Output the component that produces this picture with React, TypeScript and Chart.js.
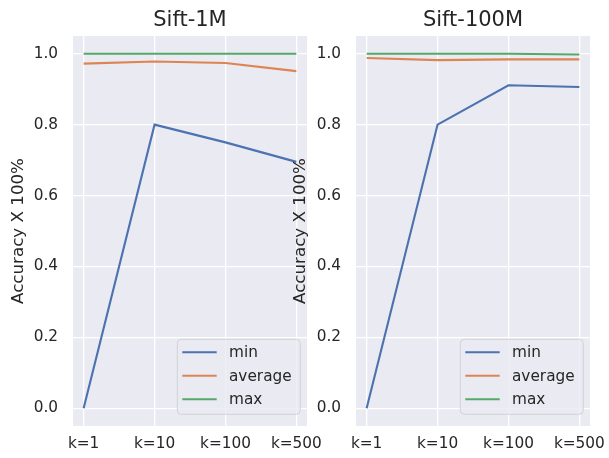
import React, { useEffect, useRef } from 'react';
import { Chart, registerables } from 'chart.js';

Chart.register(...registerables);

// ---- data ----
const categories = ['k=1', 'k=10', 'k=100', 'k=500'];
const seriesNames = ['min', 'average', 'max'];
const sift1mMin = [0.0, 0.8, 0.75, 0.695];
const sift1mAvg = [0.972, 0.978, 0.974, 0.951];
const sift1mMax = [1.0, 1.0, 1.0, 1.0];
const sift100mMin = [0.0, 0.8, 0.911, 0.906];
const sift100mAvg = [0.988, 0.982, 0.984, 0.984];
const sift100mMax = [1.0, 1.0, 1.0, 0.998];
const yTickValues = [0.0, 0.2, 0.4, 0.6, 0.8, 1.0];
const yLabel = 'Accuracy X 100%';

const COLORS = ['#4c72b0', '#dd8452', '#55a868'];
const TEXT = '#262626';
const FONT = '"DejaVu Sans", sans-serif';

const bgPlugin = {
  id: 'axBg',
  beforeDraw(chart: any) {
    const { ctx, chartArea } = chart;
    ctx.save();
    ctx.fillStyle = '#eaeaf2';
    ctx.fillRect(chartArea.left, chartArea.top, chartArea.width, chartArea.height);
    ctx.restore();
  },
};

const legendPlugin = {
  id: 'mplLegend',
  afterDraw(chart: any) {
    const { ctx, chartArea } = chart;
    const w = 123;
    const h = 75;
    const x = chartArea.right - 6.7 - w;
    const y = chartArea.bottom - 11.7 - h;
    ctx.save();
    ctx.beginPath();
    ctx.roundRect(x, y, w, h, 4);
    ctx.fillStyle = 'rgba(234,234,242,0.8)';
    ctx.fill();
    ctx.strokeStyle = 'rgba(204,204,204,0.8)';
    ctx.lineWidth = 1;
    ctx.stroke();
    chart.data.datasets.forEach((ds: any, i: number) => {
      const ly = y + 13 + i * 23.5;
      ctx.beginPath();
      ctx.moveTo(x + 5, ly);
      ctx.lineTo(x + 39.4, ly);
      ctx.strokeStyle = ds.borderColor;
      ctx.lineWidth = 2.1;
      ctx.stroke();
      ctx.fillStyle = TEXT;
      ctx.font = `15.3px ${FONT}`;
      ctx.textBaseline = 'middle';
      ctx.textAlign = 'left';
      ctx.fillText(ds.label, x + 51.7, ly + 1);
    });
    ctx.restore();
  },
};

function makeConfig(title: string, series: number[][], yAxisWidth: number, padRight: number): any {
  return {
    type: 'line',
    data: {
      datasets: series.map((vals, i) => ({
        label: seriesNames[i],
        data: vals.map((v, j) => ({ x: j, y: v })),
        borderColor: COLORS[i],
        backgroundColor: COLORS[i],
        borderWidth: 2.1,
        pointRadius: 0,
        tension: 0,
        fill: false,
      })),
    },
    options: {
      responsive: false,
      animation: false,
      devicePixelRatio: 1,
      layout: { padding: { left: 0, right: padRight, top: 0, bottom: 0 } },
      plugins: {
        legend: { display: false },
        tooltip: { enabled: false },
        title: {
          display: true,
          text: title,
          fullSize: false,
          color: TEXT,
          font: { family: FONT, size: 21, weight: 'normal', lineHeight: 1.2 },
          padding: { top: 8.3, bottom: 2.5 },
        },
      },
      scales: {
        x: {
          type: 'linear',
          min: -0.15,
          max: 3.15,
          afterBuildTicks(scale: any) {
            scale.ticks = categories.map((_, i) => ({ value: i }));
          },
          afterFit(scale: any) {
            scale.height = 32;
            scale.paddingLeft = 0;
            scale.paddingRight = 0;
          },
          ticks: {
            autoSkip: false,
            maxRotation: 0,
            padding: 9,
            color: TEXT,
            font: { family: FONT, size: 15.3 },
            callback: (v: any) => categories[v as number] ?? '',
          },
          grid: { color: '#ffffff', lineWidth: 1.3, drawTicks: false },
          border: { display: false },
        },
        y: {
          type: 'linear',
          min: -0.05,
          max: 1.05,
          afterBuildTicks(scale: any) {
            scale.ticks = yTickValues.map((v) => ({ value: v }));
          },
          afterFit(scale: any) {
            scale.width = yAxisWidth;
            scale.paddingTop = 0;
            scale.paddingBottom = 0;
          },
          ticks: {
            padding: 15,
            color: TEXT,
            font: { family: FONT, size: 15.3 },
            callback: (v: any) => Number(v).toFixed(1),
          },
          grid: { color: '#ffffff', lineWidth: 1.3, drawTicks: false },
          border: { display: false },
          title: {
            display: true,
            text: yLabel,
            color: TEXT,
            font: { family: FONT, size: 16.7, lineHeight: 1.2 },
            padding: { top: 8.3, bottom: 0 },
          },
        },
      },
    },
    plugins: [bgPlugin, legendPlugin],
  };
}

function Panel(props: { title: string; series: number[][]; left: number; width: number; yAxisWidth: number; padRight: number; z: number }) {
  const ref = useRef<HTMLCanvasElement | null>(null);
  useEffect(() => {
    if (!ref.current) return;
    const chart = new Chart(ref.current, makeConfig(props.title, props.series, props.yAxisWidth, props.padRight));
    return () => chart.destroy();
  }, []);
  return (
    <canvas
      ref={ref}
      width={props.width}
      height={458}
      style={{ position: 'absolute', left: props.left, top: 0, width: props.width, height: 458, zIndex: props.z }}
    />
  );
}

export default function App() {
  return (
    <div style={{ position: 'absolute', left: 0, top: 0, width: 609, height: 458, background: '#ffffff', overflow: 'hidden' }}>
      <Panel title="Sift-1M" series={[sift1mMin, sift1mAvg, sift1mMax]} left={0} width={340} yAxisWidth={73} padRight={33} z={1} />
      <Panel title="Sift-100M" series={[sift100mMin, sift100mAvg, sift100mMax]} left={282} width={327} yAxisWidth={74} padRight={19} z={2} />
    </div>
  );
}
